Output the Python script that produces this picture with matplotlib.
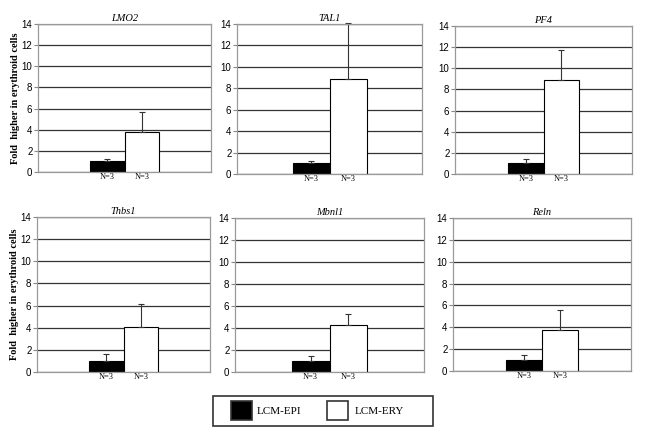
import matplotlib.pyplot as plt
from matplotlib.patches import Rectangle

# gene panels, top row then bottom row
genes = ['LMO2', 'TAL1', 'PF4', 'Thbs1', 'Mbnl1', 'Reln']
epi_mean = [1.0, 1.0, 1.0, 1.0, 1.0, 1.0]
epi_err = [0.23, 0.25, 0.45, 0.63, 0.49, 0.45]
ery_mean = [3.8, 8.9, 8.85, 4.07, 4.28, 3.77]
ery_err = [1.83, 5.2, 2.9, 2.03, 0.95, 1.8]
n_labels = ['N=3', 'N=3']
groups = ['LCM-EPI', 'LCM-ERY']
group_colors = ['black', 'white']

# axes boxes in pixels (left, right, top, bottom) on a 646x441 canvas
W, H = 646, 441
boxes = [(38, 211, 24, 172), (237, 422, 24, 174), (455, 632, 26, 174),
         (37, 210, 217, 372), (235, 424, 218, 372), (453, 631, 218, 371)]

serif = ['Liberation Serif', 'DejaVu Serif']
sans = ['Liberation Sans', 'DejaVu Sans']

fig = plt.figure(figsize=(6.46, 4.41), dpi=100)

for i, g in enumerate(genes):
    l, r, t, b = boxes[i]
    ax = fig.add_axes([l / W, 1 - b / H, (r - l) / W, (b - t) / H])
    ax.set_ylim(0, 14)
    ax.set_xlim(-2.5, 2.5)
    ax.set_yticks(range(0, 15, 2))
    ax.yaxis.grid(True, color='#333333', linewidth=0.9)
    ax.set_axisbelow(True)
    ax.bar(-0.5, epi_mean[i], width=1, color='black', edgecolor='black', linewidth=0.8,
           yerr=[[0], [epi_err[i]]], error_kw=dict(ecolor='#333333', elinewidth=0.8, capsize=2, capthick=0.8))
    ax.bar(0.5, ery_mean[i], width=1, color='white', edgecolor='black', linewidth=0.8,
           yerr=[[0], [ery_err[i]]], error_kw=dict(ecolor='#333333', elinewidth=0.8, capsize=2, capthick=0.8, clip_on=False))
    ax.set_xticks([-0.5, 0.5])
    ax.set_xticklabels(n_labels, family=serif, fontsize=6)
    ax.tick_params(axis='x', length=0, pad=1)
    ax.tick_params(axis='y', length=3, width=0.8, color='#888888', pad=1, labelsize=7)
    for lab in ax.get_yticklabels():
        lab.set_family(sans)
    for sp in ax.spines.values():
        sp.set_color('#999999')
        sp.set_linewidth(0.9)
    ax.set_title(g, family=serif, style='italic', fontsize=7.5, pad=2)
    if i % 3 == 0:
        ax.set_ylabel('Fold  higher in erythroid cells', family=serif, fontweight='bold',
                      fontsize=7.5, labelpad=1)

# legend drawn by hand in pixel-based figure coords
def px(x, y):
    return x / W, 1 - y / H

x0, y0 = px(213, 426)
fig.add_artist(Rectangle((x0, y0), 220 / W, 30 / H, transform=fig.transFigure,
                         facecolor='white', edgecolor='#333333', linewidth=1.2))
for k, (name, c) in enumerate(zip(groups, group_colors)):
    sx = [231, 327][k]
    tx = [257, 355][k]
    bx, by = px(sx, 420)
    fig.add_artist(Rectangle((bx, by), 21 / W, 19 / H, transform=fig.transFigure,
                             facecolor=c, edgecolor='#333333', linewidth=1.2))
    fig.text(*px(tx, 412), name, family=serif, fontsize=8, va='center', ha='left')

fig.savefig('out.png', dpi=100)
